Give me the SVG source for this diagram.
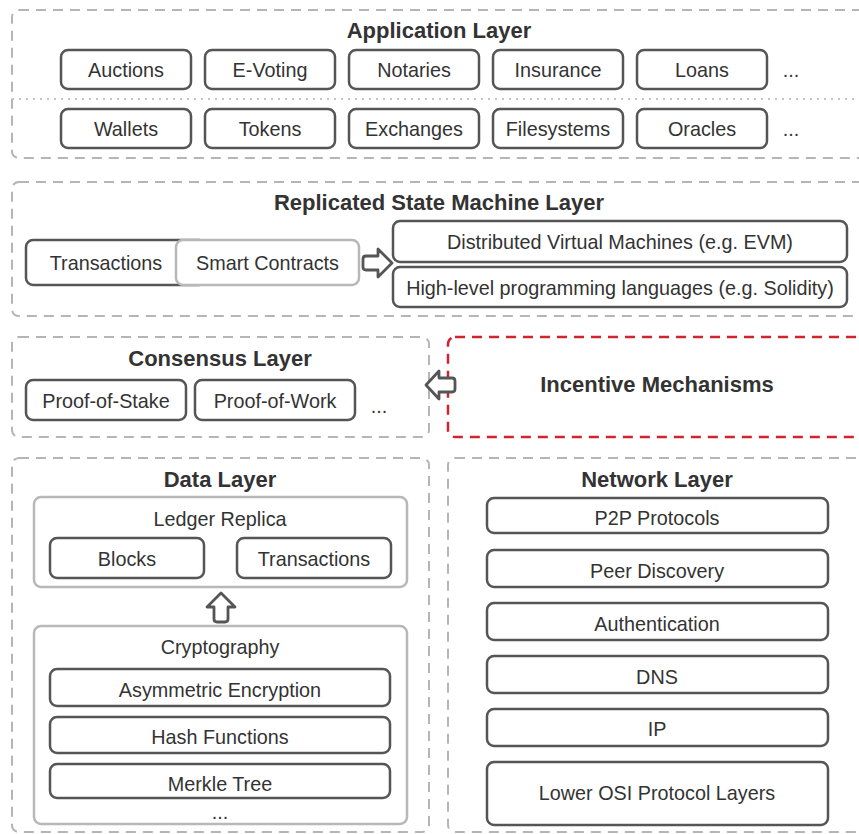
<svg xmlns="http://www.w3.org/2000/svg" width="859" height="834" viewBox="0 0 859 834">
<style>
text{font-family:"Liberation Sans",Arial,sans-serif;fill:#333;text-anchor:middle}
.t{font-size:19.8px}
.h{font-size:22px;font-weight:bold}
.layer{fill:none;stroke:#b5b5b5;stroke-width:2;stroke-dasharray:10 7}
.red{fill:none;stroke:#d2232f;stroke-width:2.5;stroke-dasharray:10 7}
.box{fill:#fff;stroke:#555;stroke-width:2.5}
.lbox{fill:#fff;stroke:#b8b8b8;stroke-width:2.5}
.arr{fill:#fff;stroke:#555;stroke-width:2.8;stroke-linejoin:round}
</style>
<rect width="859" height="834" fill="#fff"/>

<g id="application-layer">
<rect class="layer" x="12" y="10" width="870" height="148" rx="7"/>
<text class="h" x="439" y="38">Application Layer</text>
<line x1="12" y1="99" x2="859" y2="99" stroke="#c4c4c4" stroke-width="2" stroke-dasharray="2 5"/>
<g id="auctions"><rect class="box" x="61" y="50" width="130" height="39" rx="7"/><text class="t" x="126" y="77">Auctions</text></g>
<g id="e-voting"><rect class="box" x="205" y="50" width="130" height="39" rx="7"/><text class="t" x="270" y="77">E-Voting</text></g>
<g id="notaries"><rect class="box" x="349" y="50" width="130" height="39" rx="7"/><text class="t" x="414" y="77">Notaries</text></g>
<g id="insurance"><rect class="box" x="493" y="50" width="130" height="39" rx="7"/><text class="t" x="558" y="77">Insurance</text></g>
<g id="loans"><rect class="box" x="637" y="50" width="130" height="39" rx="7"/><text class="t" x="702" y="77">Loans</text></g>
<text class="t" x="791" y="77">...</text>
<g id="wallets"><rect class="box" x="61" y="109" width="130" height="39" rx="7"/><text class="t" x="126" y="136">Wallets</text></g>
<g id="tokens"><rect class="box" x="205" y="109" width="130" height="39" rx="7"/><text class="t" x="270" y="136">Tokens</text></g>
<g id="exchanges"><rect class="box" x="349" y="109" width="130" height="39" rx="7"/><text class="t" x="414" y="136">Exchanges</text></g>
<g id="filesystems"><rect class="box" x="493" y="109" width="130" height="39" rx="7"/><text class="t" x="558" y="136">Filesystems</text></g>
<g id="oracles"><rect class="box" x="637" y="109" width="130" height="39" rx="7"/><text class="t" x="702" y="136">Oracles</text></g>
<text class="t" x="791" y="136">...</text>
</g>

<g id="rsm-layer">
<rect class="layer" x="12" y="182" width="870" height="134" rx="7"/>
<text class="h" x="439" y="210">Replicated State Machine Layer</text>
<g id="transactions-rsm"><rect class="box" x="26" y="240" width="180" height="45" rx="7"/><text class="t" x="106" y="269.5">Transactions</text></g>
<g id="smart-contracts"><rect class="lbox" x="176" y="240" width="183" height="45" rx="7"/><text class="t" x="267.5" y="269.5">Smart Contracts</text></g>
<g id="dvm"><rect class="box" x="393" y="221" width="454" height="41" rx="7"/><text class="t" x="620" y="249">Distributed Virtual Machines (e.g. EVM)</text></g>
<g id="hll"><rect class="box" x="393" y="267" width="454" height="40" rx="7"/><text class="t" x="620" y="295">High-level programming languages (e.g. Solidity)</text></g>
</g>

<g id="consensus-layer">
<rect class="layer" x="12" y="337" width="417" height="100" rx="7"/>
<text class="h" x="220" y="366">Consensus Layer</text>
<g id="pos"><rect class="box" x="26" y="380" width="160" height="40" rx="7"/><text class="t" x="106" y="407.5">Proof-of-Stake</text></g>
<g id="pow"><rect class="box" x="195" y="380" width="160" height="40" rx="7"/><text class="t" x="275" y="407.5">Proof-of-Work</text></g>
<text class="t" x="379" y="413">...</text>
</g>

<g id="incentive-mechanisms">
<rect class="red" x="448" y="337" width="440" height="100" rx="7"/>
<text class="h" x="657" y="392">Incentive Mechanisms</text>
</g>

<g id="data-layer">
<rect class="layer" x="12" y="458" width="417" height="374" rx="7"/>
<text class="h" x="220" y="487">Data Layer</text>
<g id="ledger-replica">
<rect class="lbox" x="34" y="497" width="373" height="90" rx="7"/>
<text class="t" x="220" y="526">Ledger Replica</text>
<g id="blocks"><rect class="box" x="50" y="538" width="154" height="40" rx="7"/><text class="t" x="127" y="565.5">Blocks</text></g>
<g id="transactions-data"><rect class="box" x="237" y="538" width="154" height="40" rx="7"/><text class="t" x="314" y="565.5">Transactions</text></g>
</g>
<g id="cryptography">
<rect class="lbox" x="34" y="626" width="373" height="198" rx="7"/>
<text class="t" x="220" y="654">Cryptography</text>
<g id="asym"><rect class="box" x="50" y="669" width="340" height="37" rx="7"/><text class="t" x="220" y="697">Asymmetric Encryption</text></g>
<g id="hash"><rect class="box" x="50" y="717" width="340" height="36" rx="7"/><text class="t" x="220" y="744">Hash Functions</text></g>
<g id="merkle"><rect class="box" x="50" y="764" width="340" height="34" rx="7"/><text class="t" x="220" y="791">Merkle Tree</text></g>
<text class="t" x="220" y="819">...</text>
</g>
</g>

<g id="network-layer">
<rect class="layer" x="448" y="458" width="440" height="374" rx="7"/>
<text class="h" x="657" y="487">Network Layer</text>
<g id="p2p"><rect class="box" x="487" y="498" width="341" height="35" rx="7"/><text class="t" x="657" y="525">P2P Protocols</text></g>
<g id="peer"><rect class="box" x="487" y="550" width="341" height="37" rx="7"/><text class="t" x="657" y="578">Peer Discovery</text></g>
<g id="auth"><rect class="box" x="487" y="603" width="341" height="37" rx="7"/><text class="t" x="657" y="631">Authentication</text></g>
<g id="dns"><rect class="box" x="487" y="656" width="341" height="37" rx="7"/><text class="t" x="657" y="684">DNS</text></g>
<g id="ip"><rect class="box" x="487" y="709" width="341" height="37" rx="7"/><text class="t" x="657" y="736">IP</text></g>
<g id="osi"><rect class="box" x="487" y="762" width="341" height="63" rx="7"/><text class="t" x="657" y="800">Lower OSI Protocol Layers</text></g>
</g>

<g id="connectors">
<path class="arr" d="M366,256 Q363,256 363,259 L363,267 Q363,270 366,270 L378,270 L378,277 L392,263 L378,249 L378,256 Z"/>
<path class="arr" d="M452,378 Q455,378 455,381 L455,389 Q455,392 452,392 L439,392 L439,399 L426,385 L439,371 L439,378 Z"/>
<path class="arr" d="M214,619 Q214,622 217,622 L225,622 Q228,622 228,619 L228,607 L235,607 L221,593 L207,607 L214,607 Z"/>
</g>
</svg>
